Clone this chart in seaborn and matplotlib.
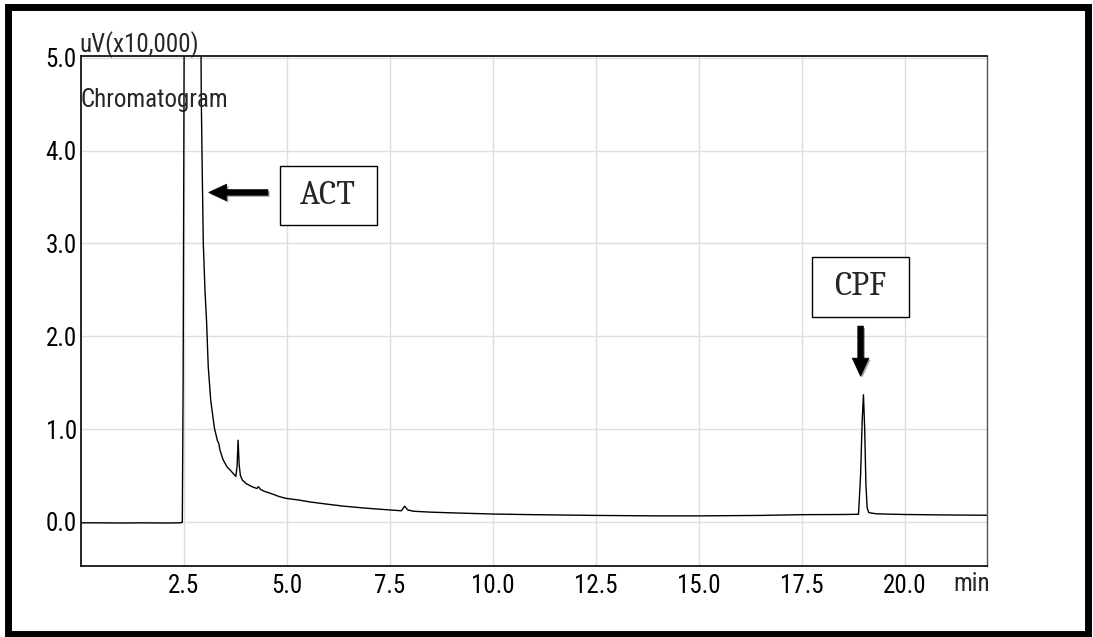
import matplotlib
matplotlib.use("Agg")
import matplotlib.pyplot as plt
import matplotlib.patheffects as pe
from matplotlib.patches import Rectangle
from matplotlib.ticker import MultipleLocator, FormatStrFormatter
import matplotlib.transforms as mtransforms
from matplotlib import font_manager
import seaborn as sns
import pandas as pd

# ---- data ----
time_min = [0.0, 0.5, 1.0, 1.5, 2.0, 2.40, 2.46, 2.48, 2.51, 2.70, 2.905, 2.92, 2.94,
            2.97, 3.01, 3.05, 3.09, 3.15, 3.24, 3.31, 3.33, 3.35, 3.37, 3.45, 3.55,
            3.62, 3.70, 3.76, 3.79, 3.815, 3.84, 3.87, 3.92, 4.02, 4.15, 4.27, 4.31,
            4.36, 4.45, 4.59, 4.80, 4.96, 5.30, 5.56, 6.00, 6.37, 7.00, 7.47, 7.78,
            7.86, 7.93, 8.07, 8.50, 9.20, 10.0, 11.0, 12.5, 14.0, 15.0, 16.5, 17.5,
            18.5, 18.88, 18.93, 18.97, 19.00, 19.03, 19.06, 19.09, 19.13, 19.3, 19.5,
            20.0, 21.0, 22.0]
signal_uv = [-0.010, -0.010, -0.012, -0.010, -0.012, -0.010, -0.005, 1.5, 6.0, 12.0,
             6.0, 4.6, 3.9, 3.0, 2.5, 2.15, 1.67, 1.31, 1.01, 0.88, 0.86, 0.84, 0.78,
             0.67, 0.59, 0.56, 0.52, 0.49, 0.60, 0.88, 0.62, 0.50, 0.45, 0.41, 0.38,
             0.36, 0.38, 0.35, 0.33, 0.31, 0.275, 0.255, 0.235, 0.215, 0.19, 0.17,
             0.145, 0.13, 0.12, 0.17, 0.13, 0.115, 0.105, 0.095, 0.085, 0.078, 0.070,
             0.065, 0.065, 0.070, 0.078, 0.080, 0.082, 0.50, 1.10, 1.37, 1.00, 0.40,
             0.15, 0.10, 0.088, 0.085, 0.080, 0.075, 0.072]
x_ticks = [2.5, 5.0, 7.5, 10.0, 12.5, 15.0, 17.5, 20.0]
y_ticks = [0.0, 1.0, 2.0, 3.0, 4.0, 5.0]
peak_labels = ["ACT", "CPF"]

df = pd.DataFrame({"time": time_min, "signal": signal_uv})

sns.set_style("white")
installed = {f.name for f in font_manager.fontManager.ttflist}
sans = [f for f in ["Roboto Condensed", "Archivo Narrow", "PT Sans Narrow", "DejaVu Sans"] if f in installed]
serif = [f for f in ["Caladea", "Liberation Serif", "DejaVu Serif"] if f in installed]
plt.rcParams["font.family"] = sans

W, H = 1093, 637
fig = plt.figure(figsize=(W / 100, H / 100), dpi=100)
ax = fig.add_axes([81 / W, 1 - 566 / H, (987 - 81) / W, (566 - 56) / H])

sns.lineplot(data=df, x="time", y="signal", ax=ax, color="black", lw=1.0,
             estimator=None, sort=False)

ax.set_xlim(0, 22.0)
ax.set_ylim(-0.475, 5.02)
ax.set_xticks(x_ticks)
ax.set_yticks(y_ticks)
ax.xaxis.set_major_formatter(FormatStrFormatter("%.1f"))
ax.yaxis.set_major_formatter(FormatStrFormatter("%.1f"))
ax.xaxis.set_minor_locator(MultipleLocator(0.5))
ax.yaxis.set_minor_locator(MultipleLocator(0.2))
ax.tick_params(axis="both", which="both", labelsize=18, colors="black", pad=2)
ax.tick_params(axis="x", which="both", direction="out", length=3, width=0.8, pad=3)
ax.tick_params(axis="y", which="both", direction="out", length=2, width=0.8, pad=1)
ax.set_xlabel("")
ax.set_ylabel("")
ax.grid(True, which="major", color="#dedede", lw=1.0)
ax.set_axisbelow(True)
for s in ["left", "bottom", "top"]:
    ax.spines[s].set_color("black")
    ax.spines[s].set_linewidth(1.2)
ax.spines["right"].set_color("#555555")
ax.spines["right"].set_linewidth(1.0)

# texts
ax.text(-0.002, 0.997, "uV(x10,000)", transform=ax.transAxes, ha="left", va="bottom",
        fontsize=18)
ax.text(0.0, 0.914, "Chromatogram", transform=ax.transAxes, ha="left", va="center",
        fontsize=18)
trans = mtransforms.blended_transform_factory(ax.transData, ax.transAxes)
ax.text(21.63, -0.012, "min", transform=trans, ha="center", va="top", fontsize=18)

# annotation boxes and arrows
shadow = [pe.SimplePatchShadow(offset=(1.2, -1.2), alpha=0.35), pe.Normal()]
boxes = {"ACT": (4.83, 3.20, 2.35, 0.63), "CPF": (17.74, 2.21, 2.36, 0.64)}
arrows = {"ACT": ((4.54, 3.55), (3.10, 3.55)), "CPF": ((18.93, 2.11), (18.93, 1.57))}
for lab in peak_labels:
    bx, by, bw, bh = boxes[lab]
    ax.add_patch(Rectangle((bx, by), bw, bh, fill=True, fc="white", ec="black",
                           lw=1.0, zorder=5))
    ax.text(bx + bw / 2, by + bh / 2, lab, ha="center", va="center",
            fontsize=24, family=serif, zorder=6)
    tail, tip = arrows[lab]
    ax.annotate("", xy=tip, xytext=tail,
                arrowprops=dict(arrowstyle="simple,head_width=0.6,head_length=0.65,tail_width=0.2",
                                mutation_scale=20, fc="black", ec="black", lw=0.5,
                                shrinkA=0, shrinkB=0, path_effects=shadow),
                zorder=6)

# figure border
fig.patches.append(Rectangle((8 / W, 3.5 / H), 1080 / W, 627 / H, transform=fig.transFigure,
                             fill=False, ec="black", lw=5.0, zorder=10))

fig.savefig("out.png", dpi=100)
